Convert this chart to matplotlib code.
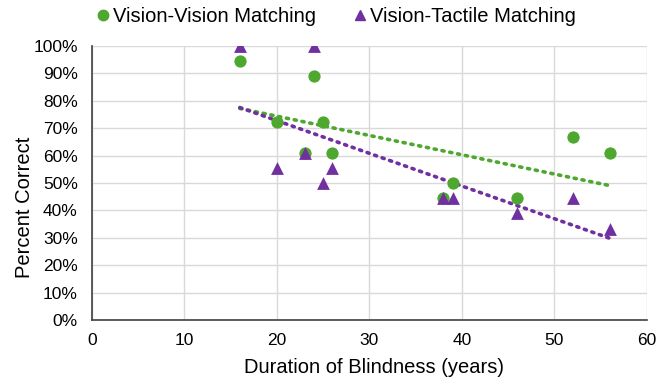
import numpy as np
import matplotlib
matplotlib.use("Agg")
import matplotlib.pyplot as plt
from matplotlib.lines import Line2D

plt.rcParams["font.family"] = ["Liberation Sans", "DejaVu Sans"]

GREEN = "#4EA72E"
PURPLE = "#7030A0"
GRID = "#D9D9D9"
AXIS = "#404040"

# data: duration of blindness (years) vs percent correct
vv_years = [16, 24, 20, 25, 23, 26, 38, 39, 46, 52, 56]
vv_pct = [94.4, 88.9, 72.2, 72.2, 61.1, 61.1, 44.4, 50.0, 44.4, 66.7, 61.1]
vt_years = [16, 24, 20, 23, 25, 26, 38, 39, 46, 52, 56]
vt_pct = [100.0, 100.0, 55.6, 61.1, 50.0, 55.6, 44.4, 44.4, 38.9, 44.4, 33.3]

fig = plt.figure(figsize=(6.6, 3.87), dpi=100)
ax = fig.add_axes([0.139, 0.173, 0.841, 0.708])

# linear trendlines (dotted)
for xs, ys, c in [(vv_years, vv_pct, GREEN), (vt_years, vt_pct, PURPLE)]:
    k, b = np.polyfit(xs, ys, 1)
    xx = np.array([min(xs), max(xs)])
    ax.plot(xx, k * xx + b, color=c, lw=2.6, ls=(0, (0.6, 1.6)),
            dash_capstyle="round", zorder=3)

ax.scatter(vv_years, vv_pct, s=78, color=GREEN, marker="o", zorder=4, lw=0)
ax.scatter(vt_years, vt_pct, s=85, color=PURPLE, marker="^", zorder=4, lw=0)

ax.set_xlim(0, 60)
ax.set_ylim(0, 100)
ax.set_xticks(range(0, 61, 10))
ax.set_yticks(range(0, 101, 10))
ax.set_yticklabels([f"{v}%" for v in range(0, 101, 10)])
ax.grid(color=GRID, lw=1)
ax.set_axisbelow(True)
for s in ("top", "right"):
    ax.spines[s].set_visible(False)
for s in ("left", "bottom"):
    ax.spines[s].set_color(AXIS)
    ax.spines[s].set_linewidth(1.2)
ax.tick_params(length=0, labelsize=12.5, colors="#000000")
ax.tick_params(axis="x", pad=9)
ax.tick_params(axis="y", pad=10)
ax.set_xlabel("Duration of Blindness (years)", fontsize=14.5, va="center")
ax.xaxis.set_label_coords(0.508, -0.175)
ax.set_ylabel("Percent Correct", fontsize=14.5, va="center")
ax.yaxis.set_label_coords(-0.121, 0.41)

h = [Line2D([0], [0], marker="o", ls="", ms=7.5, mfc=GREEN, mec=GREEN,
            label="Vision-Vision Matching"),
     Line2D([0], [0], marker="^", ls="", ms=7.5, mfc=PURPLE, mec=PURPLE,
            label="Vision-Tactile Matching")]
fig.legend(handles=h, loc="center", bbox_to_anchor=(0.505, 0.958), ncol=2,
           frameon=False, fontsize=14.5, handletextpad=-0.1, columnspacing=1.6,
           handlelength=1.2)

fig.savefig("out.png", dpi=100)
